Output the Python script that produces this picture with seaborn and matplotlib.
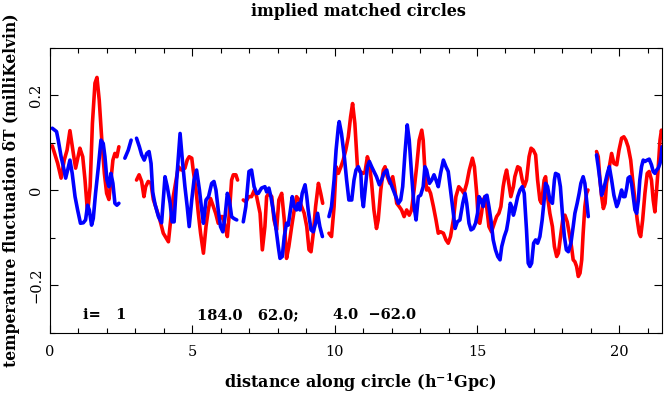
import numpy as np
import pandas as pd
import matplotlib
matplotlib.use("Agg")
import matplotlib.pyplot as plt
import seaborn as sns

nan = np.nan

# ---- data (x in h^-1 Gpc, dT in milliKelvin); NaN marks a gap ----
red_x = [
    0.08, 0.27, 0.39, 0.50, 0.60, 0.70, 0.82, 0.90, 1.00, 1.05, 1.15, 1.23, 1.32, 1.41, 1.49,
    1.58, 1.65, 1.73, 1.82, 1.91, 1.99, 2.07, 2.14, 2.21, 2.28, 2.35, 2.42,
    nan,
    3.04, 3.13, 3.22, 3.30, 3.36, 3.45, 3.55, 3.63, 3.75, 3.86, 3.98, 4.16, 4.24, 4.33, 4.43,
    4.51, 4.62, 4.74, 4.82, 4.89, 4.98, 5.03, 5.13, 5.21, 5.29, 5.39, 5.48, 5.56, 5.64, 5.74,
    5.82, 5.91, 5.99, 6.07, 6.15, 6.23, 6.30, 6.38, 6.44, 6.53, 6.59,
    nan,
    6.79, 6.88, 6.98, 7.08, 7.18, 7.26, 7.38, 7.46, 7.55, 7.61, 7.69, 7.79, 7.87, 7.96, 8.04,
    8.14, 8.23, 8.31, 8.39, 8.49, 8.58, 8.66, 8.75, 8.84, 8.93, 9.02, 9.10, 9.17, 9.25, 9.33,
    9.43, 9.51, 9.58,
    nan,
    9.80, 9.89, 9.98, 10.05, 10.13, 10.22, 10.30, 10.39, 10.48, 10.56, 10.63, 10.71, 10.80, 10.89,
    11.01, 11.07, 11.15, 11.22, 11.30, 11.38, 11.47, 11.53, 11.62, 11.71, 11.77, 11.85, 11.94,
    12.04, 12.10, 12.18, 12.27, 12.35, 12.44, 12.53, 12.62, 12.70, 12.79, 12.88, 12.97, 13.06,
    13.11, 13.17, 13.23, 13.29, 13.37, 13.47, 13.56, 13.64, 13.72, 13.82, 13.91, 13.99, 14.07,
    14.17, 14.26, 14.36, 14.46, 14.54, 14.64, 14.73,
    14.84, 14.91, 14.99, 15.05, 15.10, 15.16, 15.22, 15.28, 15.34, 15.42, 15.51, 15.61, 15.69,
    15.77, 15.84, 15.92, 15.98, 16.04, 16.10, 16.19, 16.28, 16.33, 16.43, 16.51, 16.59, 16.66,
    16.74, 16.83, 16.90, 16.98, 17.06, 17.13, 17.21, 17.27, 17.36, 17.41, 17.48, 17.56, 17.65,
    17.72, 17.80, 17.86, 17.95,
    18.03, 18.09, 18.17, 18.24, 18.32, 18.38, 18.44, 18.50, 18.56, 18.62, 18.68, 18.73, 18.79,
    18.85, 18.90,
    nan,
    19.20, 19.26, 19.32, 19.38, 19.44, 19.50, 19.55, 19.65, 19.73, 19.81, 19.91, 19.99, 20.08,
    20.16, 20.23, 20.31, 20.40, 20.47, 20.55, 20.63, 20.70, 20.75, 20.82, 20.90, 20.98, 21.05,
    21.13, 21.19, 21.25, 21.31, 21.37, 21.43, 21.48, 21.50,
]
red_dT = [
    0.093, 0.056, 0.025, 0.063, 0.084, 0.125, 0.077, 0.046, 0.074, 0.088, 0.070, 0.021, -0.049,
    0.007, 0.140, 0.225, 0.237, 0.189, 0.105, 0.035, -0.007, -0.020, 0.021, 0.063, 0.077, 0.070,
    0.091,
    nan,
    0.021, 0.032, 0.018, -0.014, 0.007, 0.018, 0.014, -0.020, -0.042, -0.063, -0.091, -0.109,
    -0.063, -0.014, 0.021, 0.049, 0.042, 0.046, 0.063, 0.070, 0.067, 0.042, 0.000, -0.049,
    -0.091, -0.133, -0.077, -0.042, -0.018, -0.035, -0.049, -0.070, -0.056, -0.056, -0.077,
    -0.098, -0.049, 0.021, 0.032, 0.032, 0.021,
    nan,
    -0.021, -0.025, -0.014, -0.014, 0.000, -0.014, -0.049, -0.126, -0.077, -0.014, -0.007,
    -0.014, -0.063, -0.084, -0.021, -0.007, -0.063, -0.144, -0.119, -0.077, -0.042, -0.014,
    -0.021, -0.035, -0.049, -0.077, -0.126, -0.130, -0.091, -0.035, 0.014, -0.007, -0.028,
    nan,
    -0.091, -0.098, -0.035, 0.049, 0.035, 0.049, 0.063, 0.084, 0.112, 0.154, 0.182, 0.140,
    0.049, 0.039,
    0.035, 0.039, 0.070, 0.056, 0.014, -0.042, -0.081, -0.063, 0.000, 0.042, 0.049, 0.028,
    0.014, 0.028, 0.007, -0.028, -0.035, -0.042, -0.056, -0.042, -0.053, -0.042, 0.000, 0.049,
    0.105, 0.126, 0.105, 0.042, 0.000, 0.004, -0.007, -0.035, -0.063, -0.091, -0.088, -0.091,
    -0.105, -0.112, -0.098, -0.063, -0.014, 0.007, 0.000, -0.007, 0.014, 0.042,
    0.067, 0.049, -0.007, -0.067, -0.070, -0.049, -0.021, -0.014, -0.035, -0.077, -0.088,
    -0.070, -0.056, -0.049, -0.035, 0.007, 0.028, 0.042, 0.021, -0.014, 0.007, 0.028, 0.049,
    0.046, 0.021, 0.007, 0.021, 0.070, 0.088, 0.084, 0.074, 0.021, -0.021, -0.028, 0.021,
    0.028, -0.014, -0.049, -0.077, -0.119, -0.140, -0.133, -0.091,
    -0.055, -0.053, -0.067, -0.091, -0.119, -0.147, -0.151, -0.161, -0.182, -0.175, -0.147,
    -0.091, -0.035, -0.007, 0.000,
    nan,
    0.081, 0.070, 0.021, -0.014, -0.039, -0.028, 0.014, 0.049, 0.077, 0.056, 0.053, 0.084,
    0.109, 0.112, 0.105, 0.091, 0.063, 0.021, -0.021, -0.063, -0.091, -0.098, -0.063, -0.007,
    0.035, 0.039, 0.021, -0.021, -0.046, 0.000, 0.049, 0.105, 0.126, 0.120,
]

blue_x = [
    0.08, 0.23, 0.29, 0.39, 0.47, 0.55, 0.62, 0.70, 0.78, 0.88, 0.97, 1.07, 1.17, 1.25, 1.32,
    1.38, 1.46, 1.52, 1.60, 1.70, 1.79, 1.87, 1.93, 2.00, 2.07, 2.14, 2.21, 2.28, 2.35, 2.42,
    nan,
    2.63, 2.75, 2.85,
    nan,
    3.04, 3.14, 3.22, 3.31, 3.40, 3.48, 3.55, 3.61, 3.69, 3.81, 3.92, 4.04, 4.12, 4.22, 4.29,
    4.36, 4.45, 4.57, 4.65, 4.74, 4.82, 4.89, 4.98, 5.06, 5.15, 5.25, 5.33, 5.39, 5.48, 5.57,
    5.68, 5.76, 5.83, 5.91, 5.99, 6.07, 6.15, 6.23, 6.30, 6.38, 6.46, 6.56,
    nan,
    6.79, 6.88, 6.99, 7.08, 7.17, 7.26, 7.32, 7.43, 7.55, 7.61, 7.69, 7.76, 7.84, 7.93, 8.02,
    8.08, 8.16, 8.23, 8.31, 8.37, 8.43, 8.51, 8.58, 8.66, 8.72, 8.78, 8.86, 8.96, 9.02, 9.07,
    9.17, 9.25, 9.33, 9.40, 9.48, 9.57,
    nan,
    9.80, 9.89, 9.98, 10.05, 10.13, 10.16, 10.24, 10.34, 10.42, 10.50, 10.60, 10.68, 10.75,
    10.83, 10.92, 10.96, 11.01, 11.07, 11.15, 11.22, 11.30, 11.38, 11.47, 11.57, 11.65, 11.73,
    11.83, 11.88, 11.97, 12.06, 12.15, 12.24, 12.32, 12.39, 12.47, 12.55, 12.62, 12.70, 12.79,
    12.86, 12.94, 13.02, 13.11, 13.17, 13.23, 13.33, 13.41, 13.49, 13.56, 13.64, 13.72, 13.82,
    13.91, 13.99, 14.07, 14.17, 14.23, 14.31, 14.40, 14.50, 14.58, 14.64, 14.72, 14.79, 14.87,
    14.95, 15.02, 15.07, 15.14, 15.22, 15.28, 15.35, 15.42, 15.49, 15.57, 15.65, 15.73, 15.81,
    15.87, 15.96, 16.04, 16.10, 16.17, 16.22, 16.28, 16.33, 16.43, 16.51, 16.59, 16.66, 16.74,
    16.80, 16.86, 16.92, 16.99, 17.06, 17.13, 17.21, 17.29, 17.36, 17.41, 17.48, 17.56, 17.65,
    17.72, 17.76, 17.86, 17.93, 18.00, 18.07, 18.14, 18.21, 18.30, 18.38, 18.44, 18.52, 18.59,
    18.65, 18.73, 18.79, 18.85, 18.91,
    nan,
    19.20, 19.26, 19.32, 19.38, 19.44, 19.50, 19.58, 19.65, 19.73, 19.81, 19.91, 19.96, 20.02,
    20.08, 20.14, 20.20, 20.26, 20.31, 20.37, 20.43, 20.49, 20.55, 20.61, 20.67, 20.72, 20.78,
    20.84, 20.90, 20.98, 21.05, 21.13, 21.19, 21.25, 21.31, 21.37, 21.43, 21.47, 21.50,
]
blue_dT = [
    0.130, 0.123, 0.105, 0.070, 0.049, 0.025, 0.042, 0.063, 0.035, -0.014, -0.042, -0.070,
    -0.069, -0.063, -0.032, -0.042, -0.074, -0.060, -0.007, 0.049, 0.105, 0.098, 0.070, 0.021,
    0.007, 0.035, 0.014, -0.028, -0.032, -0.028,
    nan,
    0.067, 0.084, 0.105,
    nan,
    0.109, 0.091, 0.074, 0.063, 0.077, 0.081, 0.056, -0.005, -0.030, -0.056, -0.069, 0.028,
    0.007, -0.028, -0.067, -0.067, 0.021, 0.119, 0.063, 0.007, -0.035, -0.077, -0.021, 0.021,
    0.042, 0.000, -0.042, -0.070, -0.021, -0.014, 0.014, 0.018, 0.000, -0.042, -0.077, -0.088,
    -0.056, -0.007, -0.021, -0.056, -0.060, -0.063,
    nan,
    -0.067, -0.035, 0.039, 0.042, 0.007, -0.007, -0.007, 0.004, 0.007, -0.004, 0.004, -0.014,
    -0.042, -0.077, -0.119, -0.144, -0.140, -0.098, -0.070, -0.074, -0.049, -0.014, -0.035,
    -0.042, -0.028, -0.042, -0.007, 0.011, -0.014, -0.042, -0.084, -0.088, -0.070, -0.049,
    -0.077, -0.098,
    nan,
    -0.056, -0.035, 0.021, 0.084, 0.133, 0.144, 0.119, 0.070, 0.021, -0.021, -0.021, 0.021,
    0.042, 0.049, 0.035, -0.014, -0.035, 0.000, 0.049, 0.060, 0.049, 0.039, 0.028, 0.011,
    0.021, 0.035, 0.042, 0.028, 0.014, 0.000, -0.014, -0.028, -0.021, 0.007, 0.077, 0.137,
    0.105, 0.035, -0.035, -0.063, -0.014, -0.011, 0.007, 0.049, 0.042, 0.014, 0.021, 0.032,
    0.021, 0.007, 0.035, 0.063, 0.049, 0.039, 0.000, -0.049, -0.081, -0.067, -0.063, -0.028,
    -0.007, -0.028, -0.070, -0.084, -0.081, -0.070, -0.049, -0.014, -0.021, -0.035, -0.014,
    -0.011, -0.035, -0.063, -0.105, -0.126, -0.140, -0.147, -0.119, -0.098, -0.084, -0.063,
    -0.028, -0.035, -0.053, -0.042, -0.014, 0.000, 0.007, -0.007, -0.084, -0.154, -0.161,
    -0.154, -0.112, -0.105, -0.112, -0.098, -0.063, -0.021, 0.014, 0.007, -0.021, -0.028,
    0.021, 0.035, 0.032, 0.007, -0.049, -0.098, -0.126, -0.130, -0.112, -0.077, -0.049,
    -0.028, -0.007, 0.014, 0.028, 0.014, -0.021, -0.056,
    nan,
    0.074, 0.049, 0.021, -0.011, 0.000, 0.014, 0.035, 0.049, 0.021, -0.011, -0.035, -0.028,
    -0.014, 0.000, -0.014, -0.014, 0.004, 0.025, 0.028, 0.014, -0.014, -0.042, -0.049, -0.021,
    0.021, 0.049, 0.063, 0.060, 0.063, 0.065, 0.053, 0.039, 0.035, 0.042, 0.046, 0.056, 0.070,
    0.091,
]

x_major = [0, 5, 10, 15, 20]
y_major = [-0.2, 0.0, 0.2]
y_major_labels = ["\u22120.2", "0", "0.2"]

title = "implied matched circles"
xlabel = "distance along circle (h$^{\\mathbf{-1}}$Gpc)"
ylabel = "temperature fluctuation \u03b4T (milliKelvin)"
annot = [("i=   1", 83), ("184.0   62.0;", 197), ("4.0  \u221262.0", 333)]


def to_frame(xs, ys, name):
    rows = []
    seg = 0
    for xv, yv in zip(xs, ys):
        if np.isnan(xv):
            seg += 1
            continue
        rows.append((xv, yv, name, f"{name}{seg}"))
    return pd.DataFrame(rows, columns=["x", "dT", "series", "seg"])


df = pd.concat([to_frame(red_x, red_dT, "red"), to_frame(blue_x, blue_dT, "blue")],
               ignore_index=True)

sns.set_theme(style="ticks")
plt.rcParams["font.family"] = ["DejaVu Serif"]
plt.rcParams["mathtext.fontset"] = "dejavuserif"
plt.rcParams["axes.unicode_minus"] = True
plt.rcParams["text.color"] = "black"

W, H = 667, 394
fig = plt.figure(figsize=(W / 100, H / 100), dpi=100)
ax = fig.add_axes([50 / W, 1 - 332.5 / H, 612 / W, 285 / H])

sns.lineplot(data=df, x="x", y="dT", hue="series", units="seg", estimator=None,
             sort=False, palette={"red": "#ff0000", "blue": "#0000ff"},
             hue_order=["red", "blue"], linewidth=2.6, legend=False, ax=ax)

ax.set_xlim(0, 21.5)
ax.set_ylim(-0.3, 0.3)
ax.set_xticks(x_major)
ax.set_xticklabels([str(v) for v in x_major])
ax.set_xticks(np.arange(0, 22, 1), minor=True)
ax.set_yticks(y_major)
ax.set_yticklabels(y_major_labels)
ax.set_yticks(np.arange(-0.3, 0.31, 0.1), minor=True)
ax.tick_params(which="both", direction="in", top=True, right=True, width=0.8,
               color="black", labelsize=10.5, labelcolor="black")
ax.tick_params(which="major", length=6)
ax.tick_params(which="minor", length=3.6)
ax.tick_params(axis="x", which="major", pad=9)
ax.tick_params(axis="y", which="major", pad=5)
for lbl in ax.get_yticklabels():
    lbl.set_rotation(90)
    lbl.set_va("center")
    lbl.set_ha("right")
for sp in ax.spines.values():
    sp.set_linewidth(0.8)
    sp.set_color("black")
ax.set_xlabel("")
ax.set_ylabel("")

fig.text(358 / W, 1 - 11 / H, title, ha="center", va="center", fontsize=11.5,
         fontweight="bold", color="black")
fig.text(360 / W, 1 - 383 / H, xlabel, ha="center", va="center", fontsize=11.5,
         fontweight="bold", color="black")
fig.text(12 / W, 1 - 190 / H, ylabel, ha="center", va="center", rotation=90,
         fontsize=11.2, fontweight="bold", color="black")
for txt, px in annot:
    fig.text(px / W, 1 - 315 / H, txt, ha="left", va="center", fontsize=10.5,
             fontweight="bold", color="black")

fig.savefig("out.png", dpi=100)
